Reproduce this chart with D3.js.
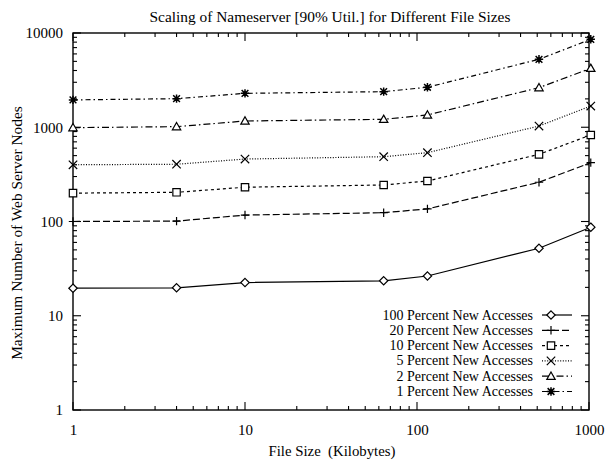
<!DOCTYPE html>
<html><head><meta charset="utf-8">
<script src="https://cdn.jsdelivr.net/npm/d3@7"></script>
<style>body{margin:0;background:#fff}svg text{font-family:"Liberation Serif","Times New Roman",serif;fill:#000}</style>
</head><body><svg id="c" width="608" height="464"></svg>
<script>
const fileSizes = [1, 4, 10, 64, 115, 512, 1024];
const seriesNames = ["100 Percent New Accesses","20 Percent New Accesses","10 Percent New Accesses","5 Percent New Accesses","2 Percent New Accesses","1 Percent New Accesses"];
const pct100 = [19.6, 19.8, 22.5, 23.5, 26.4, 52, 87];
const pct20  = [100, 101, 117, 124, 136, 261, 421];
const pct10  = [200, 204, 231, 244, 269, 516, 828];
const pct5   = [400, 405, 460, 487, 537, 1030, 1680];
const pct2   = [990, 1015, 1165, 1214, 1350, 2630, 4220];
const pct1   = [1950, 2010, 2290, 2385, 2655, 5260, 8570];
const xTicks = [1, 10, 100, 1000];
const yTicks = [1, 10, 100, 1000, 10000];
const seriesValues = [pct100, pct20, pct10, pct5, pct2, pct1];
const markerTypes = ["diamond","plus","square","cross","triangle","star"];
const dashes = [null, "7,3", "3,3", "1,1.6", "7,3,1.5,3", "5,3,1.5,3"];

const svg = d3.select("#c");
const L=73, R=589, T=33, B=410;
const x = d3.scaleLog().domain([1,1000]).range([L,R]);
const y = d3.scaleLog().domain([1,10000]).range([B,T]);

svg.append("rect").attr("x",L).attr("y",T).attr("width",R-L).attr("height",B-T)
  .attr("fill","none").attr("stroke","#000").attr("stroke-width",1.4);

function logTicks(lo,hi){const t=[];for(let d=lo;d<hi;d*=10){for(let k=1;k<10;k++)t.push({v:d*k,major:k===1});}t.push({v:hi,major:true});return t;}
const g = svg.append("g").attr("stroke","#000").attr("stroke-width",1.1);
logTicks(1,1000).forEach(t=>{const len=t.major?8:4;const px=x(t.v);
  g.append("line").attr("x1",px).attr("x2",px).attr("y1",B).attr("y2",B-len);
  g.append("line").attr("x1",px).attr("x2",px).attr("y1",T).attr("y2",T+len);});
logTicks(1,10000).forEach(t=>{const len=t.major?8:4;const py=y(t.v);
  g.append("line").attr("x1",L).attr("x2",L+len).attr("y1",py).attr("y2",py);
  g.append("line").attr("x1",R).attr("x2",R-len).attr("y1",py).attr("y2",py);});

const xa = svg.append("g").attr("transform",`translate(0,${B})`)
  .call(d3.axisBottom(x).tickValues(xTicks).tickFormat(d3.format("d")).tickSize(0).tickPadding(14));
const ya = svg.append("g").attr("transform",`translate(${L},0)`)
  .call(d3.axisLeft(y).tickValues(yTicks).tickFormat(d3.format("d")).tickSize(0).tickPadding(10));
[xa,ya].forEach(a=>{a.select(".domain").remove();a.selectAll("text").attr("font-size",15).attr("font-family","Liberation Serif");});

svg.append("text").attr("x",330).attr("y",22).attr("text-anchor","middle").attr("font-size",15.4).text("Scaling of Nameserver [90% Util.] for Different File Sizes");
svg.append("text").attr("x",332).attr("y",456).attr("text-anchor","middle").attr("font-size",14.8).attr("xml:space","preserve").text("File Size  (Kilobytes)");
svg.append("text").attr("transform","translate(22,233) rotate(-90)").attr("text-anchor","middle").attr("font-size",15.4).text("Maximum Number of Web Server Nodes");

function marker(sel,type,cx,cy){
  const s=4.2;
  const gg=sel.append("g").attr("transform",`translate(${cx},${cy})`).attr("stroke","#000").attr("stroke-width",1.2).attr("fill","none");
  if(type==="diamond") gg.append("path").attr("d",`M0,${-s}L${s},0L0,${s}L${-s},0Z`).attr("fill","#fff");
  if(type==="plus") gg.append("path").attr("d",`M${-s},0H${s}M0,${-s}V${s}`);
  if(type==="square") gg.append("path").attr("d",`M${-s+0.5},${-s+0.5}H${s-0.5}V${s-0.5}H${-s+0.5}Z`).attr("fill","#fff");
  if(type==="cross") gg.append("path").attr("d",`M${-s},${-s}L${s},${s}M${-s},${s}L${s},${-s}`);
  if(type==="triangle") gg.append("path").attr("d",`M0,${-s}L${s},${s*0.75}H${-s}Z`).attr("fill","#fff");
  if(type==="star") gg.append("path").attr("d",`M${-s},0H${s}M0,${-s}V${s}M${-s*0.8},${-s*0.8}L${s*0.8},${s*0.8}M${-s*0.8},${s*0.8}L${s*0.8},${-s*0.8}`).attr("stroke-width",1.5);
}

const line = d3.line().x(d=>x(d[0])).y(d=>y(d[1]));
seriesValues.forEach((vals,i)=>{
  const pts = fileSizes.map((f,j)=>[f,vals[j]]);
  svg.append("path").attr("d",line(pts)).attr("fill","none").attr("stroke","#000").attr("stroke-width",1.2)
    .attr("stroke-dasharray",dashes[i]);
  pts.forEach(p=>marker(svg,markerTypes[i],x(p[0]),y(p[1])));
});

const lg = svg.append("g");
seriesNames.forEach((n,i)=>{
  const yy = 315 + i*15.3;
  lg.append("text").attr("x",533).attr("y",yy+4.5).attr("text-anchor","end").attr("font-size",14).text(n);
  lg.append("line").attr("x1",542).attr("x2",572).attr("y1",yy).attr("y2",yy).attr("stroke","#000").attr("stroke-width",1.2).attr("stroke-dasharray",dashes[i]);
  marker(lg,markerTypes[i],551,yy);
});
</script></body></html>
